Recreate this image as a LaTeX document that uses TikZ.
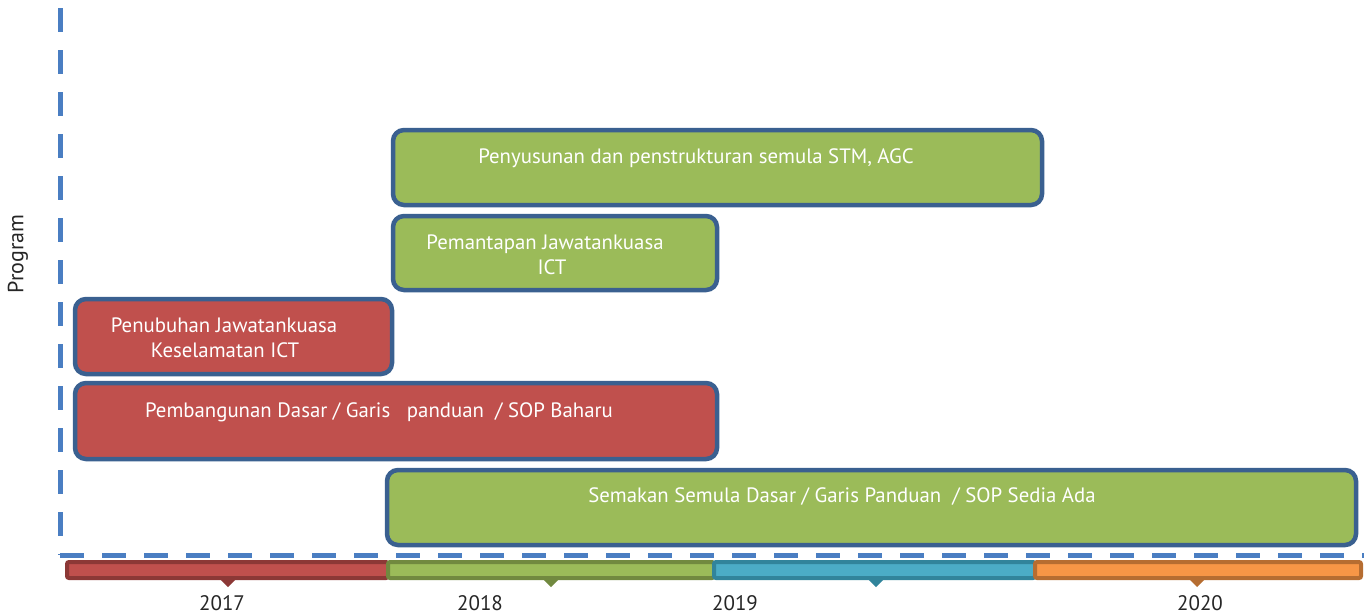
\documentclass[tikz,border=0pt]{standalone}
\usepackage{fontspec}
\setmainfont{PT Sans}
\definecolor{gfill}{HTML}{9BBB59}
\definecolor{rfill}{HTML}{C0504D}
\definecolor{bord}{HTML}{3A6090}
\definecolor{axis}{HTML}{4A7EC2}
\definecolor{gdark}{HTML}{71893F}
\definecolor{rdark}{HTML}{8C3836}
\definecolor{bfill}{HTML}{4BACC6}
\definecolor{bdark}{HTML}{31849B}
\definecolor{ofill}{HTML}{F79646}
\definecolor{odark}{HTML}{B66D31}
\tikzset{
  prog/.style={draw=bord, line width=4.5pt, rounded corners=11pt},
  lbl/.style={text=white, font=\fontsize{20.8}{25}\selectfont, inner sep=0pt, anchor=base},
  yr/.style={text=black!85, font=\fontsize{21}{25}\selectfont, inner sep=0pt, anchor=base},
  axisline/.style={draw=axis, line width=5pt, dash pattern=on 24pt off 18pt},
  seg/.style={line width=4pt, rounded corners=2pt},
}
\begin{document}
\begin{tikzpicture}[x=1pt,y=-1pt]
\useasboundingbox (0,0) rectangle (1368,614);
% axes
\coordinate (vtop) at (60,8);
\coordinate (org) at (60,555);
\coordinate (hend) at (1364,555);
\draw[axisline] (vtop) -- (org);
\draw[axisline] (org) -- (hend);
\node[rotate=90, text=black!85, font=\fontsize{22}{26}\selectfont, inner sep=0pt] (prog) at (18,254) {Program};
% boxes
\filldraw[prog, fill=gfill] (393,130) rectangle (1042,205);
\node[lbl] (t1) at (696,163) {Penyusunan dan penstrukturan semula STM, AGC};
\filldraw[prog, fill=gfill] (393,216) rectangle (717,290);
\node[lbl] (t2a) at (545,249) {Pemantapan Jawatankuasa};
\node[lbl] (t2b) at (552,274) {ICT};
\filldraw[prog, fill=rfill] (75,299) rectangle (392,374);
\node[lbl] (t3a) at (224,332) {Penubuhan Jawatankuasa};
\node[lbl] (t3b) at (225,357) {Keselamatan ICT};
\filldraw[prog, fill=rfill] (75,383) rectangle (717,459);
\node[lbl] (t4) at (379,417) {Pembangunan Dasar / Garis \ \ panduan \ / SOP Baharu};
\filldraw[prog, fill=gfill] (387,470) rectangle (1356,545);
\node[lbl] (t5) at (842,502) {Semakan Semula Dasar / Garis Panduan \ / SOP Sedia Ada};
% timeline
\filldraw[seg, draw=rdark, fill=rfill] (67,562) rectangle (388,578);
\fill[rdark] (219,578) -- (237,578) -- (228,587) -- cycle;
\filldraw[seg, draw=gdark, fill=gfill] (388,562) rectangle (714,578);
\fill[gdark] (542,578) -- (560,578) -- (551,587) -- cycle;
\filldraw[seg, draw=bdark, fill=bfill] (714,562) rectangle (1035,578);
\fill[bdark] (867,578) -- (885,578) -- (876,587) -- cycle;
\filldraw[seg, draw=odark, fill=ofill] (1035,562) rectangle (1361,578);
\fill[odark] (1188,578) -- (1206,578) -- (1197,587) -- cycle;
\node[yr] (y1) at (222,610) {2017};
\node[yr] (y2) at (480,610) {2018};
\node[yr] (y3) at (735,610) {2019};
\node[yr] (y4) at (1200,610) {2020};
\end{tikzpicture}
\end{document}
